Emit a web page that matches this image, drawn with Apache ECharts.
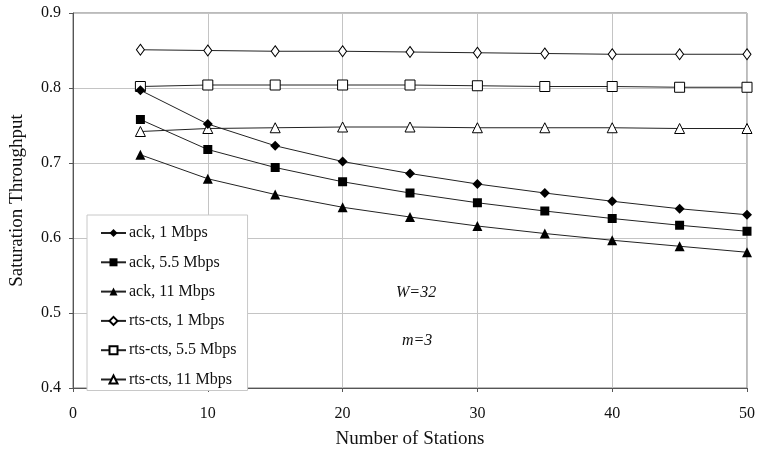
<!DOCTYPE html>
<html>
<head>
<meta charset="utf-8">
<script src="https://cdn.jsdelivr.net/npm/echarts@6/dist/echarts.min.js"></script>
<style>
  html, body { margin: 0; padding: 0; background: #fff; }
  #main { width: 758px; height: 454px; }
</style>
</head>
<body>
<div id="main"></div>
<script>
// stations on x axis
const stations = [5, 10, 15, 20, 25, 30, 35, 40, 45, 50];

// saturation throughput
const ack1 = [0.797, 0.752, 0.723, 0.702, 0.686, 0.672, 0.660, 0.649, 0.639, 0.631];
const ack55 = [0.758, 0.718, 0.694, 0.675, 0.660, 0.647, 0.636, 0.626, 0.617, 0.609];
const ack11 = [0.711, 0.679, 0.658, 0.641, 0.628, 0.616, 0.606, 0.597, 0.589, 0.581];
const rts1 = [0.851, 0.850, 0.849, 0.849, 0.848, 0.847, 0.846, 0.845, 0.845, 0.845];
const rts55 = [0.802, 0.804, 0.804, 0.804, 0.804, 0.803, 0.802, 0.802, 0.801, 0.801];
const rts11 = [0.742, 0.746, 0.747, 0.748, 0.748, 0.747, 0.747, 0.747, 0.746, 0.746];

const seriesNames = [
  "ack, 1 Mbps", "ack, 5.5 Mbps", "ack, 11 Mbps",
  "rts-cts, 1 Mbps", "rts-cts, 5.5 Mbps", "rts-cts, 11 Mbps"
];

const font = "Liberation Serif";

function pairs(vals) {
  return stations.map((x, i) => [x, vals[i]]);
}

function makeSeries(name, vals, symbol, size, filled) {
  return {
    name: name,
    type: "line",
    data: pairs(vals),
    symbol: symbol,
    symbolSize: size,
    showAllSymbol: true,
    lineStyle: { color: "#222", width: 1 },
    itemStyle: {
      color: filled ? "#000" : "#fff",
      borderColor: "#000",
      borderWidth: filled ? 0 : 1
    },
    emphasis: { disabled: true },
    z: filled ? 3 : 2
  };
}

let myChart = echarts.init(document.getElementById("main"));

let option = {
  animation: false,
  textStyle: { fontFamily: font },
  grid: {
    left: 73,
    right: 8,
    top: 13,
    bottom: 65,
    show: true,
    borderColor: "#777",
    borderWidth: 1
  },
  legend: {
    data: seriesNames,
    orient: "vertical",
    left: 87,
    top: 215,
    itemWidth: 25,
    itemHeight: 10,
    itemGap: 13.3,
    padding: [10, 11, 3, 13],
    backgroundColor: "#fff",
    borderColor: "#c8c8c8",
    borderWidth: 1,
    textStyle: { fontFamily: font, fontSize: 16, color: "#111", padding: [0, 0, 0, -2] }
  },
  xAxis: {
    type: "value",
    min: 0,
    max: 50,
    interval: 10,
    name: "Number of Stations",
    nameLocation: "middle",
    nameGap: 42,
    nameTextStyle: { fontFamily: font, fontSize: 19, color: "#111" },
    axisLine: { show: true, lineStyle: { color: "#555" } },
    axisTick: { show: true, length: 4, inside: false, lineStyle: { color: "#555" } },
    axisLabel: { fontFamily: font, fontSize: 16, color: "#111", margin: 18 },
    splitLine: { show: true, lineStyle: { color: "#c4c4c4" } }
  },
  yAxis: {
    type: "value",
    min: 0.4,
    max: 0.9,
    interval: 0.1,
    name: "Saturation Throughput",
    nameLocation: "middle",
    nameGap: 46,
    nameTextStyle: { fontFamily: font, fontSize: 19, color: "#111" },
    axisLine: { show: true, lineStyle: { color: "#555" } },
    axisTick: { show: true, length: 4, lineStyle: { color: "#555" } },
    axisLabel: {
      fontFamily: font, fontSize: 16, color: "#111", margin: 12,
      formatter: v => v.toFixed(1)
    },
    splitLine: { show: true, lineStyle: { color: "#c4c4c4" } }
  },
  graphic: [
    {
      type: "text", left: 396, top: 285,
      style: { text: "W=32", font: "italic 16px 'Liberation Serif'", fill: "#111" }
    },
    {
      type: "text", left: 402, top: 333,
      style: { text: "m=3", font: "italic 16px 'Liberation Serif'", fill: "#111" }
    }
  ],
  series: [
    makeSeries(seriesNames[0], ack1, "diamond", 10, true),
    makeSeries(seriesNames[1], ack55, "rect", 9, true),
    makeSeries(seriesNames[2], ack11, "triangle", 10, true),
    makeSeries(seriesNames[3], rts1, "diamond", [8, 11], false),
    makeSeries(seriesNames[4], rts55, "rect", 10, false),
    makeSeries(seriesNames[5], rts11, "triangle", 10, false)
  ]
};

myChart.setOption(option);
</script>
</body>
</html>
